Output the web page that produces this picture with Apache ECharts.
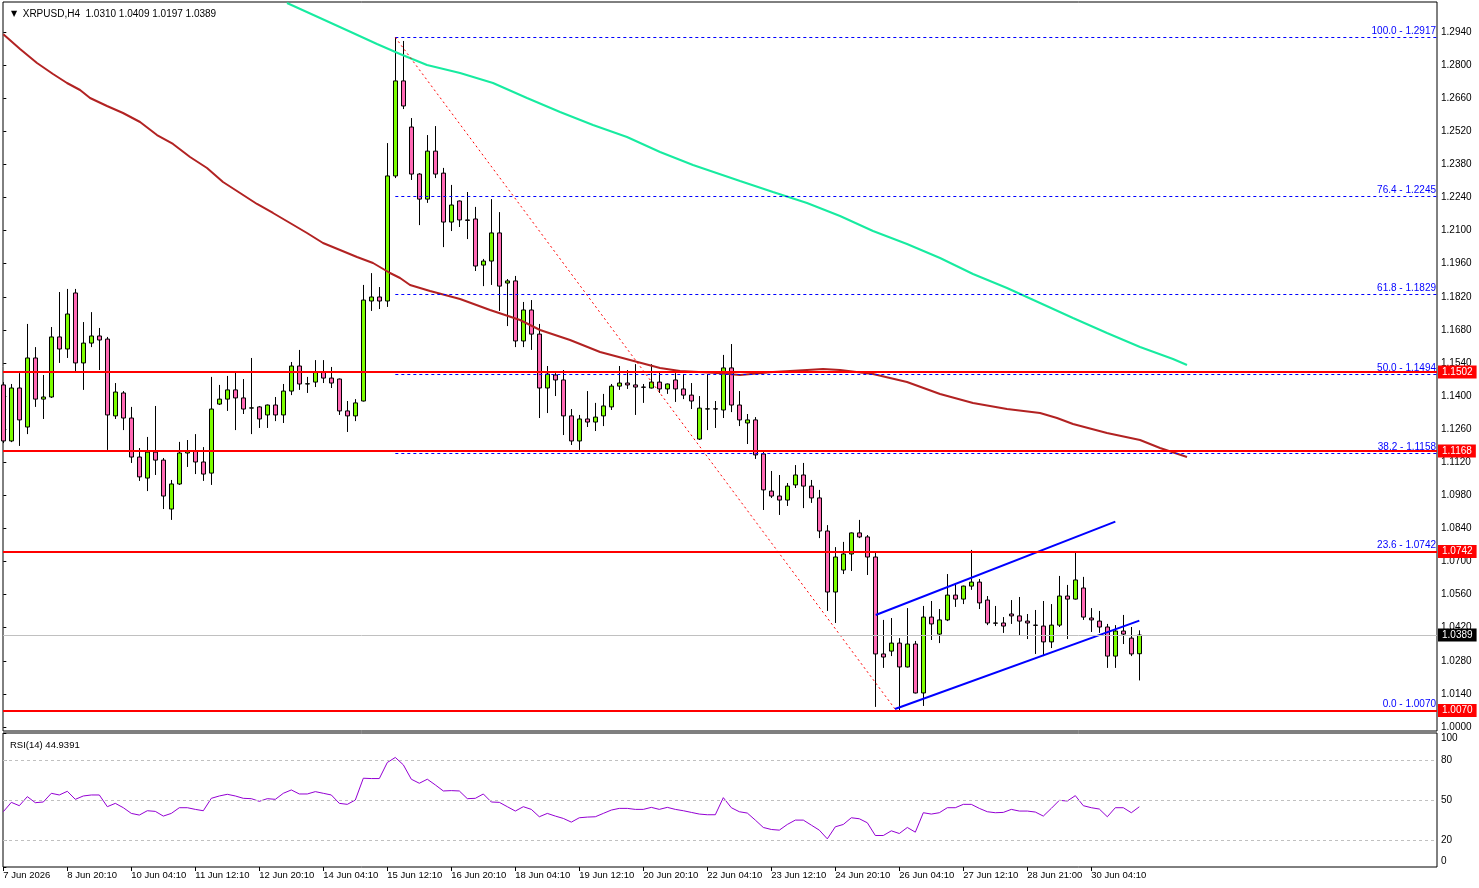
<!DOCTYPE html>
<html><head><meta charset="utf-8">
<script src="https://cdn.jsdelivr.net/npm/echarts@6/dist/echarts.min.js"></script>
<style>html,body{margin:0;padding:0;background:#fff}#c{width:1479px;height:888px}</style>
</head><body><div id="c"></div>
<script>
// ---- candles (H4 bars, index 0..142) ----
const opens = [1.1447,1.1210,1.1434,1.1269,1.1561,1.1387,1.1396,1.1650,1.1599,1.1836,
1.1540,1.1624,1.1654,1.1641,1.1316,1.1413,1.1307,1.1142,1.1053,1.1163,
1.1129,1.0922,1.1028,1.1159,1.1167,1.1121,1.1074,1.1366,1.1387,1.1426,
1.1392,1.1349,1.1354,1.1320,1.1362,1.1320,1.1421,1.1527,1.1451,1.1459,
1.1502,1.1476,1.1472,1.1337,1.1316,1.1379,1.1802,1.1819,1.1802,1.2331,
1.2733,1.2538,1.2339,1.2233,1.2436,1.2343,1.2136,1.2225,1.2145,1.2149,
1.1954,1.1971,1.2090,1.1878,1.1887,1.1633,1.1764,1.1662,1.1434,1.1489,
1.1468,1.1316,1.1210,1.1303,1.1290,1.1316,1.1354,1.1442,1.1455,1.1447,
1.1438,1.1434,1.1459,1.1430,1.1468,1.1430,1.1404,1.1218,1.1345,1.1346,
1.1341,1.1519,1.1362,1.1286,1.1299,1.1155,1.0998,1.0977,1.0960,1.1024,
1.1066,1.1019,1.0969,1.0829,1.0571,1.0664,1.0732,1.0821,1.0804,1.0719,
1.0309,1.0321,1.0355,1.0254,1.0351,1.0144,1.0465,1.0393,1.0453,1.0558,
1.0541,1.0596,1.0613,1.0537,1.0440,1.0440,1.0478,1.0470,1.0448,1.0431,
1.0427,1.0360,1.0431,1.0554,1.0541,1.0588,1.0461,1.0448,1.0423,1.0300,
1.0406,1.0376,1.0310];
const highs = [1.1459,1.1451,1.1497,1.1705,1.1607,1.1489,1.1692,1.1840,1.1853,1.1853,
1.1713,1.1755,1.1688,1.1650,1.1455,1.1421,1.1354,1.1180,1.1227,1.1358,
1.1138,1.1045,1.1206,1.1214,1.1239,1.1184,1.1481,1.1447,1.1485,1.1502,
1.1472,1.1561,1.1358,1.1364,1.1396,1.1451,1.1544,1.1595,1.1481,1.1552,
1.1552,1.1523,1.1474,1.1379,1.1387,1.1870,1.1920,1.1861,1.2470,1.2917,
1.2902,1.2576,1.2343,1.2504,1.2542,1.2365,1.2293,1.2227,1.2263,1.2200,
1.1980,1.2233,1.2178,1.1895,1.1908,1.1798,1.1806,1.1705,1.1527,1.1497,
1.1510,1.1345,1.1320,1.1421,1.1371,1.1409,1.1451,1.1527,1.1510,1.1535,
1.1451,1.1535,1.1502,1.1453,1.1497,1.1493,1.1455,1.1400,1.1493,1.1379,
1.1574,1.1620,1.1421,1.1324,1.1311,1.1163,1.1083,1.1066,1.1032,1.1108,
1.1117,1.1045,1.1003,1.0854,1.0761,1.0783,1.0823,1.0876,1.0812,1.0736,
1.0453,1.0461,1.0376,1.0503,1.0364,1.0512,1.0533,1.0499,1.0647,1.0609,
1.0598,1.0749,1.0626,1.0554,1.0512,1.0465,1.0537,1.0550,1.0478,1.0495,
1.0533,1.0520,1.0639,1.0601,1.0740,1.0635,1.0503,1.0491,1.0436,1.0431,
1.0474,1.0423,1.0409];
const lows = [1.1201,1.1205,1.1189,1.1239,1.1354,1.1303,1.1392,1.1540,1.1561,1.1506,
1.1426,1.1607,1.1510,1.1172,1.1303,1.1256,1.1117,1.1041,1.0998,1.1066,
1.0922,1.0876,1.1024,1.1100,1.1070,1.1041,1.1024,1.1362,1.1337,1.1256,
1.1324,1.1239,1.1265,1.1265,1.1294,1.1286,1.1404,1.1426,1.1413,1.1438,
1.1455,1.1434,1.1320,1.1248,1.1294,1.1377,1.1760,1.1768,1.1777,1.2322,
1.2614,1.2314,1.2123,1.2217,1.2322,1.2030,1.2098,1.2115,1.2064,1.1929,
1.1865,1.1870,1.1760,1.1696,1.1607,1.1607,1.1595,1.1307,1.1328,1.1400,
1.1235,1.1193,1.1172,1.1269,1.1252,1.1273,1.1341,1.1426,1.1430,1.1320,
1.1371,1.1432,1.1413,1.1409,1.1375,1.1387,1.1345,1.1214,1.1256,1.1265,
1.1307,1.1332,1.1273,1.1197,1.1134,1.0918,1.0969,1.0897,1.0935,1.1011,
1.0926,1.0948,1.0799,1.0491,1.0440,1.0647,1.0660,1.0799,1.0643,1.0085,
1.0250,1.0300,1.0070,1.0252,1.0142,1.0089,1.0368,1.0355,1.0448,1.0508,
1.0520,1.0580,1.0499,1.0431,1.0427,1.0398,1.0436,1.0389,1.0372,1.0309,
1.0300,1.0334,1.0423,1.0372,1.0539,1.0453,1.0402,1.0398,1.0250,1.0250,
1.0351,1.0300,1.0197];
const closes = [1.1210,1.1434,1.1299,1.1561,1.1387,1.1396,1.1650,1.1599,1.1747,1.1540,
1.1624,1.1654,1.1637,1.1320,1.1417,1.1307,1.1142,1.1058,1.1163,1.1129,
1.0977,1.1028,1.1159,1.1167,1.1121,1.1070,1.1345,1.1387,1.1426,1.1392,
1.1345,1.1350,1.1303,1.1362,1.1320,1.1421,1.1527,1.1451,1.1452,1.1502,
1.1476,1.1455,1.1337,1.1316,1.1371,1.1806,1.1819,1.1802,1.2331,1.2733,
1.2627,1.2339,1.2233,1.2436,1.2339,1.2136,1.2208,1.2145,1.2143,1.1950,
1.1971,1.2090,1.1865,1.1887,1.1633,1.1764,1.1662,1.1434,1.1493,1.1468,
1.1316,1.1210,1.1303,1.1290,1.1311,1.1358,1.1442,1.1455,1.1447,1.1438,
1.1437,1.1459,1.1430,1.1451,1.1430,1.1404,1.1379,1.1349,1.1346,1.1345,
1.1519,1.1362,1.1299,1.1299,1.1151,1.1003,1.0977,1.0960,1.1019,1.1066,
1.1019,1.0969,1.0829,1.0571,1.0719,1.0732,1.0821,1.0804,1.0719,1.0309,
1.0296,1.0355,1.0254,1.0351,1.0144,1.0465,1.0436,1.0453,1.0558,1.0541,
1.0596,1.0613,1.0525,1.0440,1.0439,1.0427,1.0470,1.0448,1.0440,1.0430,
1.0360,1.0431,1.0554,1.0541,1.0622,1.0465,1.0453,1.0423,1.0300,1.0406,
1.0393,1.0309,1.0389];

// ---- moving averages (bar position, price) ----
const maSlowBars = [0,2.09,4.21,6.21,7.96,9.59,10.84,12.96,14.96,17.09,19.21,21.21,23.34,25.46,27.46,29.59,31.71,33.71,35.84,37.96,39.96,42.09,44.21,46.21,48.34,49.59,50.84,53.34,57.09,60.84,64.59,67.09,70.84,74.59,78.34,82.09,84.59,89.21,92.09,96.21,100.46,102.46,104.59,108.71,110.84,112.96,117.09,121.21,125.46,129.59,131.71,133.71,137.96,142.09,144.59,147.96];
const maSlowVals = [1.29302,1.28680,1.28088,1.27623,1.27242,1.26946,1.26607,1.26269,1.25973,1.25592,1.25042,1.24662,1.24112,1.23646,1.23054,1.22589,1.22124,1.21743,1.21320,1.20897,1.20474,1.20178,1.19882,1.19628,1.19205,1.18993,1.18697,1.18443,1.18105,1.17640,1.17217,1.16794,1.16371,1.15863,1.15525,1.15186,1.15059,1.14975,1.14890,1.15017,1.15102,1.15144,1.15102,1.14932,1.14763,1.14594,1.14086,1.13706,1.13452,1.13283,1.13071,1.12817,1.12437,1.12140,1.11802,1.11421];
const maFastBars = [35.46,39.59,43.71,46.71,49.59,52.96,57.09,61.21,65.46,69.59,73.71,77.96,82.09,86.21,92.09,96.21,100.46,104.59,108.71,112.96,117.09,121.21,125.46,129.59,133.71,137.96,142.09,146.21,147.96];
const maFastVals = [1.30626,1.29992,1.29357,1.28892,1.28469,1.28003,1.27665,1.27242,1.26607,1.26015,1.25465,1.24958,1.24323,1.23773,1.23096,1.22631,1.22166,1.21616,1.20981,1.20431,1.19839,1.19162,1.18570,1.17936,1.17301,1.16667,1.16074,1.15567,1.15313];

// ---- RSI(14) ----
const rsi = [41.25,48.25,45.75,52.5,48,48.5,55,53.75,56.5,50.5,
53,53.75,53.75,45,47.5,44.25,40,38.75,42,41.5,
38,40,44.25,44.25,43,42,51.25,53,54.25,53,
51.25,51,49,51,50.5,55,57.5,54.5,54.5,56.25,
55,53.75,47.5,46.75,50,66.25,66,66,78,81.75,
76.25,65.5,62.5,65.5,61.25,56.75,57,56.75,51,51.25,
54.5,48.5,48.25,45,
41.75,45,43,37.5,40,38,36.25,
33.5,36.75,37.25,37.5,40,42.5,43.75,43.75,43,43,
44.5,43,44.5,43,42,40.75,39.5,39,39,51.75,
44.25,41.25,40.25,35,29.5,28,27.5,31.75,35,35,
31.25,27.5,21,30,31.75,36.75,36,33,23.5,23.5,
27,25,29.5,26,40.5,39.5,40.5,44.25,44.25,46.75,
46.75,43.75,41.25,40.5,40.75,43,41.75,41.75,41,38,
43.75,49.75,49.25,53.25,45.75,44.25,43.25,37.5,44.25,44.25,
40.5,44.94];
const rsiLevels = [20, 50, 80];
const rsiTicks = [0, 20, 50, 80, 100];

// ---- axis labels ----
const timeLabelBars = [0,8,16,24,32,40,48,56,64,72,80,88,96,104,112,120,128,136];
const timeLabels = ['7 Jun 2026','8 Jun 20:10','10 Jun 04:10','11 Jun 12:10','12 Jun 20:10','14 Jun 04:10','15 Jun 12:10','16 Jun 20:10','18 Jun 04:10','19 Jun 12:10','20 Jun 20:10','22 Jun 04:10','23 Jun 12:10','24 Jun 20:10','26 Jun 04:10','27 Jun 12:10','28 Jun 21:00','30 Jun 04:10'];
const priceTicks = ['1.0000','1.0140','1.0280','1.0420','1.0560','1.0700','1.0840','1.0980','1.1120','1.1260','1.1400','1.1540','1.1680','1.1820','1.1960','1.2100','1.2240','1.2380','1.2520','1.2660','1.2800','1.2940'];

// ---- chart objects ----
const srLevels = [1.1502, 1.1168, 1.0742, 1.0070];
const fibPct = ['100.0','76.4','61.8','50.0','38.2','23.6','0.0'];
const fibPrice = [1.2917,1.2245,1.1829,1.1494,1.1158,1.0742,1.0070];
const fibStartBar = 49;
const swingFrom = [49, 1.2917], swingTo = [111.6, 1.0070];
const channelUpper = [[109.05, 1.0474], [139.0, 1.0869]];
const channelLower = [[111.46, 1.0076], [142.0, 1.0450]];
const lastPrice = 1.0389;
const titleText = 'XRPUSD,H4  1.0310 1.0409 1.0197 1.0389';
const rsiTitle = 'RSI(14) 44.9391';

const FONT = '"Liberation Sans", Arial, sans-serif';
const X_MIN = -0.04, X_MAX = 179.21;
const candleData = opens.map((o, i) => [i, o, closes[i], lows[i], highs[i]]);
const slowData = maSlowBars.map((b, i) => [b, maSlowVals[i]]);
const fastData = maFastBars.map((b, i) => [b, maFastVals[i]]);
const rsiData = rsi.map((v, i) => [i, v]);
const priceVals = priceTicks.map(Number);
const tlMap = {}; timeLabelBars.forEach((b, i) => tlMap[b] = timeLabels[i]);

const boxLabel = (bg, v) => ({show: true, position: 'end', distance: 1, formatter: v.toFixed(4),
  color: '#fff', backgroundColor: bg, padding: [2, 4, 1, 4], fontSize: 10, fontFamily: FONT});

const objLines = [];
fibPrice.forEach((p, i) => {
  objLines.push([
    {coord: [fibStartBar, p], lineStyle: {color: '#0000ff', type: [3, 3], width: 1},
     label: {show: true, position: 'insideEndTop', distance: [1, 1], formatter: fibPct[i] + ' - ' + p.toFixed(4),
       color: '#0000ff', fontSize: 10, fontFamily: FONT}},
    {coord: [X_MAX, p]}
  ]);
});
objLines.push([{coord: swingFrom, lineStyle: {color: '#ff0000', type: [2, 3], width: 1}, label: {show: false}}, {coord: swingTo}]);
objLines.push([{coord: channelUpper[0], lineStyle: {color: '#0000ff', type: 'solid', width: 2}, label: {show: false}}, {coord: channelUpper[1]}]);
objLines.push([{coord: channelLower[0], lineStyle: {color: '#0000ff', type: 'solid', width: 2}, label: {show: false}}, {coord: channelLower[1]}]);
objLines.push({yAxis: lastPrice, lineStyle: {color: '#c0c0c0', type: 'solid', width: 1}, label: boxLabel('#000', lastPrice)});
srLevels.forEach(p => objLines.push({yAxis: p, lineStyle: {color: '#ff0000', type: 'solid', width: 2}, label: boxLabel('#ff0000', p)}));

const chart = echarts.init(document.getElementById('c'));
chart.setOption({
  animation: false,
  backgroundColor: '#fff',
  textStyle: {fontFamily: FONT},
  title: [
    {text: '{t|▼}  ' + titleText, left: 6, top: 4,
     textStyle: {fontSize: 10, fontWeight: 'normal', color: '#000', fontFamily: FONT,
       rich: {t: {fontSize: 8, color: '#000', fontFamily: '"DejaVu Sans"'}}}},
    {text: rsiTitle, left: 5, top: 735, textStyle: {fontSize: 9.5, fontWeight: 'normal', color: '#000', fontFamily: FONT}}
  ],
  grid: [
    {left: 3, right: 42, top: 2, height: 729, show: true, borderColor: '#000', borderWidth: 1},
    {left: 3, right: 42, top: 733, height: 134, show: true, borderColor: '#000', borderWidth: 1}
  ],
  xAxis: [
    {type: 'value', gridIndex: 0, min: X_MIN, max: X_MAX, show: false, splitLine: {show: false}},
    {type: 'value', gridIndex: 1, min: X_MIN, max: X_MAX, splitLine: {show: false},
     axisLine: {show: false},
     axisTick: {show: true, customValues: timeLabelBars, length: 4, lineStyle: {color: '#000'}},
     axisLabel: {customValues: timeLabelBars, formatter: v => tlMap[Math.round(v)] || '', align: 'left',
       margin: 3, color: '#000', fontSize: 9.5, fontFamily: FONT}}
  ],
  yAxis: [
    {type: 'value', gridIndex: 0, position: 'right', min: 0.998308, max: 1.306684, scale: true,
     splitLine: {show: false}, axisLine: {show: false},
     axisTick: {show: true, customValues: priceVals, length: 3, lineStyle: {color: '#000'}},
     axisLabel: {customValues: priceVals, formatter: v => v.toFixed(4), margin: 4, color: '#000', fontSize: 10, fontFamily: FONT}},
    {type: 'value', gridIndex: 1, position: 'right', min: 0, max: 100,
     splitLine: {show: false}, axisLine: {show: false},
     axisTick: {show: true, customValues: rsiTicks, length: 3, lineStyle: {color: '#000'}},
     axisLabel: {customValues: rsiTicks, margin: 4, color: '#000', fontSize: 10, fontFamily: FONT,
       formatter: v => v === 100 ? '{t|100}' : (v === 0 ? '{b|0}' : String(v)),
       rich: {t: {padding: [11, 0, 0, 0], fontSize: 10, fontFamily: FONT, color: '#000'},
              b: {padding: [0, 0, 11, 0], fontSize: 10, fontFamily: FONT, color: '#000'}}}}
  ],
  series: [
    {type: 'candlestick', xAxisIndex: 0, yAxisIndex: 0, data: candleData,
     encode: {x: 0, y: [1, 2, 3, 4]}, barWidth: 4, z: 2,
     itemStyle: {color: '#7cfc00', color0: '#ff69b4', borderColor: '#000', borderColor0: '#000', borderWidth: 1}},
    {type: 'line', xAxisIndex: 0, yAxisIndex: 0, data: slowData, showSymbol: false, symbol: 'none', z: 3,
     lineStyle: {color: '#b22222', width: 2}},
    {type: 'line', xAxisIndex: 0, yAxisIndex: 0, data: fastData, showSymbol: false, symbol: 'none', z: 3,
     lineStyle: {color: '#17eba0', width: 2}},
    {type: 'line', xAxisIndex: 0, yAxisIndex: 0, data: [], z: 4,
     markLine: {silent: true, precision: 6, symbol: ['none', 'none'], animation: false, data: objLines}},
    {type: 'line', xAxisIndex: 1, yAxisIndex: 1, data: rsiData, showSymbol: false, symbol: 'none', z: 3,
     lineStyle: {color: '#9400d3', width: 1},
     markLine: {silent: true, symbol: ['none', 'none'], animation: false, label: {show: false},
       lineStyle: {color: '#c0c0c0', type: [3, 3], width: 1}, data: rsiLevels.map(v => ({yAxis: v}))}}
  ]
});
</script>
</body></html>
